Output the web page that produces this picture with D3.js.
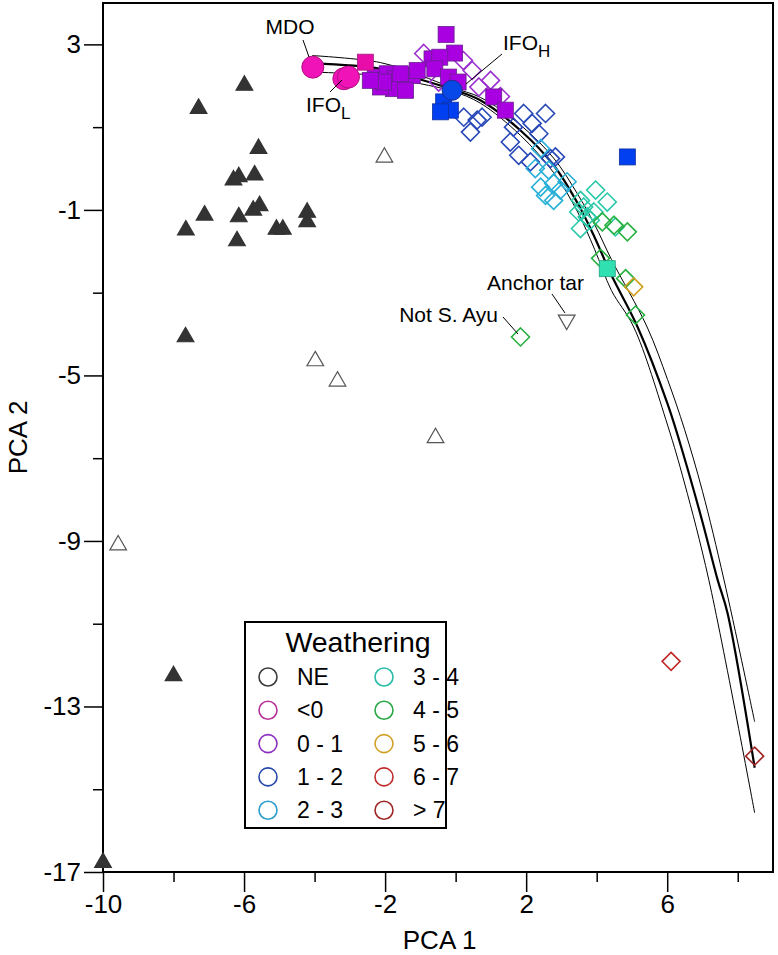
<!DOCTYPE html>
<html>
<head>
<meta charset="utf-8">
<script src="https://cdnjs.cloudflare.com/ajax/libs/d3/7.8.5/d3.min.js"></script>
<style>
  body { margin: 0; background: #fff; }
  svg { font-family: "Liberation Sans", Arial, sans-serif; }
</style>
</head>
<body>
<div id="pca-chart"></div>
<script>
// ---- data (PCA 1, PCA 2) ----
let neFilled = [[-7.29,1.45],[-5.99,2.01],[-5.59,0.48],[-6.30,-0.28],[-6.15,-0.20],[-5.70,-0.16],
  [-7.12,-1.13],[-6.15,-1.17],[-5.74,-1.01],[-5.56,-0.90],[-4.21,-1.06],[-4.21,-1.29],[-5.08,-1.47],
  [-4.90,-1.47],[-7.65,-1.49],[-6.20,-1.75],[-7.66,-4.07],[-8.0,-12.26],[-10.0,-16.77]];
let neOpen = [[-2.02,0.27],[-3.98,-4.65],[-3.35,-5.14],[-0.57,-6.51],[-9.57,-9.10]];
let anchorTar = [[3.15,-3.66]];

let circlesLt0 = [[-4.05,2.45],[-3.17,2.17],[-3.04,2.21]];
let circles12 = [[-0.10,1.89]];

let squaresLt0 = [[-2.56,2.57]];
let squares01 = [[-0.27,3.24],[-0.03,2.79],[-0.67,2.65],[-0.45,2.69],[-0.59,2.41],[-0.20,2.21],
  [0.07,2.09],[1.08,1.73],[1.41,1.41],[-2.28,2.21],[-1.94,2.29],[-1.71,2.17],[-1.47,2.09],
  [-1.23,2.25],[-1.09,2.37],[-1.76,1.93],[-1.42,1.89],[-2.13,1.97],[-2.04,2.09],[-1.57,2.29],[-2.42,2.13]];
let squares12 = [[-0.34,1.61],[-0.15,1.41],[-0.43,1.37],[4.87,0.28]];
let squares34 = [[4.30,-2.42]];

let diamonds01 = [[-0.905,2.78],[0.47,2.37],[0.66,1.97],[-0.48,2.09],[0.22,2.61],[0.99,2.13],[1.27,1.74]];
let diamonds12 = [[0.42,0.88],[0.23,1.24],[0.75,1.24],[1.55,0.64],[1.79,0.32],[1.93,1.33],[2.17,1.09],
  [2.55,1.33],[2.36,0.84],[2.12,0.16],[2.69,0.24],[2.83,0.28],[0.61,1.17],[1.64,1.00]];
let diamonds23 = [[2.41,0.48],[2.26,0.0],[2.41,-0.45],[2.55,-0.65],[2.78,-0.36],[2.97,-0.52],
  [3.16,-0.32],[2.64,-0.04],[2.78,-0.77]];
let diamonds34 = [[3.97,-0.52],[4.30,-0.81],[3.54,-0.77],[3.49,-1.05],[3.73,-1.17],[3.63,-0.93],
  [3.92,-1.05],[3.54,-1.45],[3.82,-1.25],[4.53,-1.41]];
let diamonds45 = [[4.87,-1.53],[4.49,-1.37],[4.11,-2.17],[4.82,-2.66],[5.10,-3.54],[4.16,-1.29],[1.84,-4.07]];
let diamonds56 = [[5.05,-2.86]];
let diamonds67 = [[6.11,-11.91]];
let diamondsGt7 = [[8.48,-14.2]];

// mixing curve and its two bounds
let curveMid = [[-4.06,2.54],[-2.13,2.41],[-1.00,2.15],[-0.09,1.91],[0.70,1.65],[1.84,0.92],[2.78,0.08],
  [3.46,-0.84],[3.94,-1.66],[4.42,-2.58],[5.16,-3.83],[6.01,-5.69],[6.49,-7.00],[7.00,-8.54],
  [7.43,-9.94],[7.71,-10.74],[8.48,-14.48]];
let curveUpper = [[-4.07,2.73],[-2.13,2.56],[-1.00,2.25],[-0.09,1.95],[0.70,1.72],[1.84,1.05],[2.78,0.25],
  [3.46,-0.62],[3.94,-1.35],[4.42,-2.2],[5.43,-3.83],[6.01,-5.1],[6.49,-6.3],[7.00,-7.8],[7.61,-9.94],[8.48,-13.37]];
let curveLower = [[-4.07,2.33],[-2.13,2.24],[-1.00,2.05],[-0.09,1.87],[0.70,1.58],[1.84,0.80],[2.78,-0.10],
  [3.46,-1.05],[3.94,-1.95],[4.42,-2.95],[5.05,-3.83],[6.01,-6.2],[6.49,-7.6],[7.18,-9.94],[8.48,-15.57]];

let xMajor = [-10, -6, -2, 2, 6];
let xMinor = [-8, -4, 0, 4, 8];
let yMajor = [3, -1, -5, -9, -13, -17];
let yMinor = [1, -3, -7, -11, -15];

let legendLabels = ["NE", "<0", "0 - 1", "1 - 2", "2 - 3", "3 - 4", "4 - 5", "5 - 6", "6 - 7", "> 7"];
let legendColors = ["#3a3a3a", "#b8329a", "#8a2ec0", "#2848a8", "#2c9ccc", "#26bca6", "#2aa848", "#d0a028", "#c02c2c", "#a02828"];

// ---- layout ----
let margin = ({top: 3, right: 5, bottom: 83, left: 103});
let width = 778 - margin.left - margin.right;
let height = 955 - margin.top - margin.bottom;

let svg = d3.select('#pca-chart')
  .append('svg')
    .attr("width", 778)
    .attr("height", 955);
let g = svg.append('g')
    .attr("transform", "translate(" + margin.left + "," + margin.top + ")");

let x = d3.scaleLinear().domain([-10, 9]).range([0, width]);
let y = d3.scaleLinear().domain([-17, 4]).range([height, 0]);

// frame
g.append("rect")
  .attr("width", width).attr("height", height)
  .attr("fill", "none").attr("stroke", "#000").attr("stroke-width", 2);

// axes: major ticks with labels, minor without
function styleAxis(sel){
  sel.select(".domain").remove();
  sel.selectAll(".tick line").attr("stroke", "#000").attr("stroke-width", 1.5);
  sel.selectAll(".tick text").attr("fill", "#000").style("font-size", "26px").attr("font-family", null);
}
// plain hyphen for negatives, like the original
let fmt = d => String(d);
g.append('g').attr("transform", "translate(0," + height + ")")
  .call(d3.axisBottom(x).tickValues(xMajor).tickSize(20).tickPadding(3).tickFormat(fmt))
  .call(styleAxis);
g.append('g').attr("transform", "translate(0," + height + ")")
  .call(d3.axisBottom(x).tickValues(xMinor).tickSize(10).tickFormat(""))
  .call(styleAxis);
g.append('g')
  .call(d3.axisLeft(y).tickValues(yMajor).tickSize(19).tickPadding(3).tickFormat(fmt))
  .call(styleAxis);
g.append('g')
  .call(d3.axisLeft(y).tickValues(yMinor).tickSize(10).tickFormat(""))
  .call(styleAxis);

// axis titles
g.append("text")
  .attr("x", x(0) - 16).attr("y", 949 - margin.top)
  .attr("text-anchor", "middle").style("font-size", "26px")
  .text("PCA 1");
g.append("text")
  .attr("transform", "rotate(-90)")
  .attr("x", -(y(-6.5))).attr("y", 27 - margin.left)
  .attr("text-anchor", "middle").style("font-size", "26px")
  .text("PCA 2");

// ---- curves ----
let line = d3.line().x(d => x(d[0])).y(d => y(d[1])).curve(d3.curveCatmullRom);
[[curveUpper, 1], [curveLower, 1], [curveMid, 2.2]].forEach(function(c){
  g.append("path").datum(c[0])
    .attr("d", line)
    .attr("fill", "none").attr("stroke", "#000").attr("stroke-width", c[1]);
});

// ---- markers ----
let tri = d3.symbol().type(d3.symbolTriangle).size(120);
function triangles(data, fill, stroke, flip){
  g.append("g").selectAll("path").data(data).enter().append("path")
    .attr("d", tri)
    .attr("transform", d => "translate(" + x(d[0]) + "," + y(d[1]) + ")" + (flip ? " rotate(180)" : ""))
    .attr("fill", fill).attr("stroke", stroke).attr("stroke-width", 1.2);
}
function squares(data, fill, stroke){
  g.append("g").selectAll("rect").data(data).enter().append("rect")
    .attr("x", d => x(d[0]) - 8).attr("y", d => y(d[1]) - 8)
    .attr("width", 16).attr("height", 16)
    .attr("fill", fill).attr("stroke", stroke).attr("stroke-width", 0.8);
}
function diamonds(data, color){
  g.append("g").selectAll("path").data(data).enter().append("path")
    .attr("d", "M0,-9L9,0L0,9L-9,0Z")
    .attr("transform", d => "translate(" + x(d[0]) + "," + y(d[1]) + ")")
    .attr("fill", "none").attr("stroke", color).attr("stroke-width", 1.6);
}
function circles(data, fill, stroke, r){
  g.append("g").selectAll("circle").data(data).enter().append("circle")
    .attr("cx", d => x(d[0])).attr("cy", d => y(d[1])).attr("r", r)
    .attr("fill", fill).attr("stroke", stroke).attr("stroke-width", 1);
}

triangles(neFilled, "#333", "#333", false);
triangles(neOpen, "#fff", "#555", false);
triangles(anchorTar, "#fff", "#555", true);

diamonds(diamonds12, "#2848b8");
diamonds(diamonds23, "#28b0d8");
diamonds(diamonds34, "#28c8a8");
diamonds(diamonds45, "#28b040");
diamonds(diamonds56, "#d0a020");
diamonds(diamonds67, "#c02828");
diamonds(diamondsGt7, "#a02828");
diamonds(diamonds01, "#9a2ed0");

squares(squares01, "#a800e0", "#6a2090");
squares(squaresLt0, "#e80ca8", "#a02080");
squares(squares12, "#0040f0", "#1030a0");
squares(squares34, "#30e0b0", "#20a080");

circles(circlesLt0, "#f014b8", "#b0107f", 11);
circles(circles12, "#0848e8", "#183090", 10);

// ---- annotations ----
function note(tx, ty, anchor, parts, lx1, ly1, lx2, ly2){
  let t = svg.append("text").attr("x", tx).attr("y", ty)
    .attr("text-anchor", anchor).style("font-size", "21px");
  parts.forEach(function(p){
    let s = t.append("tspan").text(p[0]);
    if (p[1]) s.attr("dy", 7).style("font-size", "17px");
  });
  svg.append("line").attr("x1", lx1).attr("y1", ly1).attr("x2", lx2).attr("y2", ly2)
    .attr("stroke", "#000").attr("stroke-width", 1);
}
note(290, 34, "middle", [["MDO"]], 303, 40, 309, 57);
note(306, 112, "start", [["IFO"], ["L", true]], 330, 92, 342, 80);
note(503, 50, "start", [["IFO"], ["H", true]], 502, 54, 466, 84);
note(584, 290, "end", [["Anchor tar"]], 552, 294, 565, 313);
note(498, 322, "end", [["Not S. Ayu"]], 503, 317, 518, 334);

// ---- legend ----
let lg = svg.append("g").attr("transform", "translate(245,622)");
lg.append("rect").attr("width", 201).attr("height", 206)
  .attr("fill", "#fff").attr("stroke", "#000").attr("stroke-width", 2);
lg.append("text").attr("x", 113).attr("y", 30)
  .attr("text-anchor", "middle").style("font-size", "28.5px").text("Weathering");
let items = lg.selectAll("g.item").data(legendLabels).enter().append("g")
  .attr("class", "item")
  .attr("transform", (d, i) => "translate(" + (i < 5 ? 23 : 139) + "," + (55 + (i % 5) * 33.3) + ")");
items.append("circle").attr("r", 9).attr("fill", "none")
  .attr("stroke", (d, i) => legendColors[i]).attr("stroke-width", 1.6);
items.append("text").attr("x", 29).attr("y", 8)
  .style("font-size", "23px").text(d => d);
</script>
</body>
</html>
